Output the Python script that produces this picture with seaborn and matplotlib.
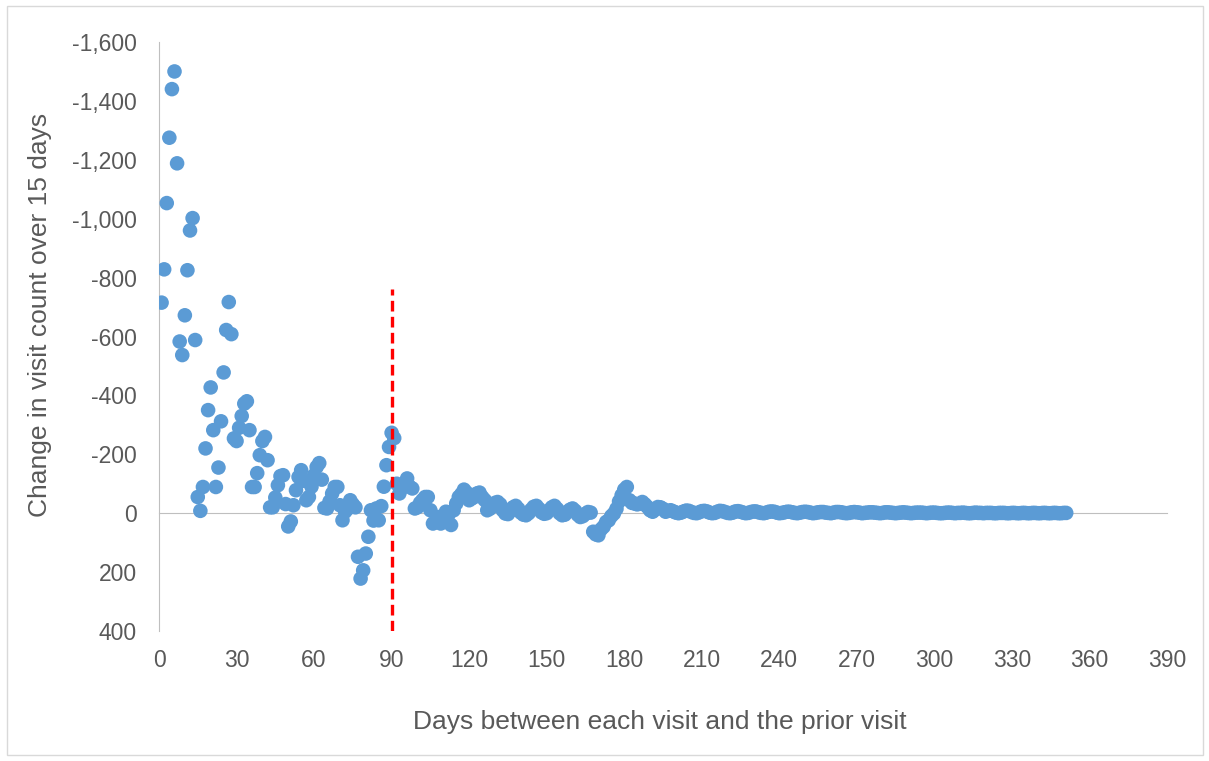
import numpy as np
import pandas as pd
import matplotlib
matplotlib.use("Agg")
import matplotlib.pyplot as plt
import seaborn as sns
from matplotlib.patches import Rectangle
from matplotlib.ticker import FuncFormatter

# change in visit count over 15 days, one value per day gap (1..351)
change_first = [
    -715, -828, -1053, -1275, -1440, -1500, -1188, -583, -537, -672,
    -825, -960, -1002, -588, -55, -8, -89, -220, -350, -427,
    -282, -89, -155, -312, -478, -622, -717, -608, -254, -245,
    -290, -330, -372, -380, -282, -89, -89, -136, -197, -245,
    -259, -180, -20, -20, -53, -95, -126, -129, -31, 45,
    28, -27, -78, -123, -146, -110, -44, -55, -90, -129,
    -157, -170, -114, -18, -16, -40, -67, -89, -89, -27,
    24, -5, -15, -44, -30, -20, 148, 222, 194, 137,
    80, -10, 25, -16, 24, -24, -90, -163, -225, -273,
    -255, -100, -67, -85, -100, -118, -90, -84, -16, -20,
]
change_mid = [
    -35, -45, -55, -55, -10, 35, 30, 13, 35, 20,
    -5, 5, 40, -10, -33, -55, -65, -80, -70, -44,
    -50, -55, -67, -70, -55, -45, -10, -15, -25, -35,
    -38, -30, -10, 1, 3, -8, -20, -25, -15, -2,
    5, 7, 0, -12, -22, -25, -15, -3, 2, 0,
    -10, -20, -25, -15, 0, 7, 5, -5, -12, -16,
    -8, 5, 13, 10, 2, -4, -2, 63, 72, 75,
    55, 46, 30, 24, 10, 1, -15, -40, -61, -80,
    -89, -44, -35, -33, -30, -32, -38, -30, -21, -10,
    -5, -12, -21, -20, -15, -5,
]
change_tail = [
    -8, -10, -6, -2, 0, -2, -6, -9, -8, -4,
    -1, 0, -3, -7, -8, -6, -2, 0, -1, -5,
    -8, -7, -4, -1, 0, -2, -6, -7, -5, -2,
    0, -1, -4, -6, -6, -3, -1, 0, -2, -5,
    -6, -5, -2, 0, -1, -3, -5, -5, -3, -1,
    0, -2, -4, -5, -4, -2, 0, -1, -3, -4,
    -4, -2, -1, 0, -2, -4, -4, -3, -1, 0,
    -1, -3, -4, -3, -2, 0, -1, -2, -3, -3,
    -2, -1, 0, -1, -3, -3, -2, -1, 0, -1,
    -2, -3, -2, -1, 0, -1, -2, -2, -2, -1,
    0, -1, -2, -2, -1, 0, 0, -1, -2, -2,
    -1, 0, -1, -1, -2, -1, 0, 0, -1, -2,
    -1, -1, 0, -1, -1, -1, 0, 0, -1, -1,
    -1, 0, 0, -1, -1, 0, 0, -1, -1, 0,
    0, -1, -1, 0, 0, -1, -1, 0, 0, -1,
    -1, 0, 0, -1, -1,
]
change = change_first + change_mid + change_tail
days = list(range(1, len(change) + 1))

x_ticks = list(range(0, 391, 30))
y_ticks = list(range(-1600, 401, 200))
cutoff_day = 90
cutoff_top = -760

df = pd.DataFrame({"days": days, "change": change})

sns.set_style("white")
plt.rcParams["font.family"] = ["Liberation Sans", "DejaVu Sans"]

grey_txt = "#595959"
grey_ax = "#BFBFBF"

fig = plt.figure(figsize=(12.09, 7.61), dpi=100)
ax = fig.add_axes([159 / 1209, 1 - 631 / 761, 1008 / 1209, 589 / 761])

sns.scatterplot(data=df, x="days", y="change", ax=ax, color="#5B9BD5",
                s=110, edgecolor="none", linewidth=0, zorder=3, legend=False)

# 90-day cutoff marker
ax.plot([cutoff_day, cutoff_day], [400, cutoff_top], color="#FF0000", lw=2.4,
        dashes=(3.2, 1.6), zorder=4, solid_capstyle="butt")

ax.set_xlim(0, 390)
ax.set_ylim(400, -1600)
ax.set_yticks(y_ticks)
ax.yaxis.set_major_formatter(FuncFormatter(lambda v, p: f"{int(v):,}"))
ax.tick_params(axis="y", length=0, pad=16, labelsize=16.5, labelcolor=grey_txt)

# x axis line crosses at zero, labels sit at the bottom
ax.spines["bottom"].set_position(("data", 0))
ax.spines["bottom"].set_color(grey_ax)
ax.spines["bottom"].set_zorder(2)
ax.spines["left"].set_color(grey_ax)
ax.spines["top"].set_visible(False)
ax.spines["right"].set_visible(False)
ax.set_xticks(x_ticks)
ax.tick_params(axis="x", direction="out", length=6, width=1, color=grey_ax,
               labelbottom=False)

sec = ax.secondary_xaxis(0)
sec.set_xticks(x_ticks)
sec.spines["bottom"].set_visible(False)
sec.tick_params(axis="x", length=0, pad=13, labelsize=16.5, labelcolor=grey_txt)

ax.set_xlabel("")
ax.set_ylabel("Change in visit count over 15 days", fontsize=19, color=grey_txt)
ax.yaxis.label.set_va("center")
ax.yaxis.set_label_coords(-0.118, 0.537)
fig.text(660 / 1209, 1 - 722 / 761, "Days between each visit and the prior visit",
         ha="center", va="center", fontsize=19, color=grey_txt)

fig.patches.append(Rectangle((7 / 1209, 6 / 761), 1196 / 1209, 749 / 761,
                             transform=fig.transFigure, fill=False,
                             edgecolor="#D9D9D9", lw=1))

fig.savefig("out.png", dpi=100)
